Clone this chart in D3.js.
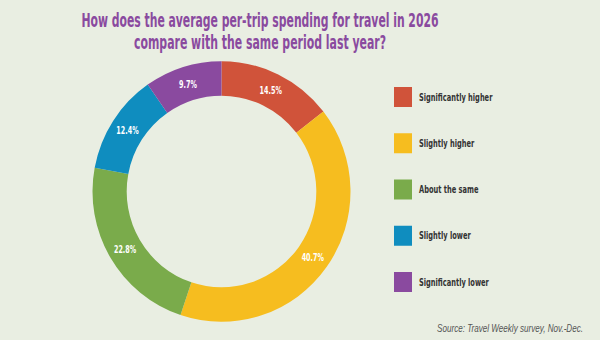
<!DOCTYPE html>
<html>
<head>
<meta charset="utf-8">
<script src="https://cdn.jsdelivr.net/npm/d3@7"></script>
<style>
  html, body { margin: 0; padding: 0; background: #e9eee2; }
  svg { display: block; }
</style>
</head>
<body>
<svg id="chart" width="600" height="340"></svg>
<script>
// ---- data ----
const categories = ["Significantly higher", "Slightly higher", "About the same", "Slightly lower", "Significantly lower"];
const shares = [14.5, 40.7, 22.8, 12.4, 9.7];
const colors = ["#d0533a", "#f6bd1f", "#7aab4b", "#0f8dbf", "#8a4a9f"];
const titleLines = ["How does the average per-trip spending for travel in 2026", "compare with the same period last year?"];
const sourceNote = "Source: Travel Weekly survey, Nov.-Dec.";

const svg = d3.select("#chart");
const W = 600, H = 340;
const FONT = "'DejaVu Sans Condensed', 'DejaVu Sans', sans-serif";

// squeeze a text horizontally (no narrow bold font installed)
function squeeze(sel, k) {
  sel.each(function() {
    const len = this.getComputedTextLength();
    d3.select(this).attr("textLength", len * k).attr("lengthAdjust", "spacingAndGlyphs");
  });
}

svg.append("rect").attr("width", W).attr("height", H).attr("fill", "#e9eee2");

// title
const title = svg.append("text")
  .attr("text-anchor", "middle")
  .attr("fill", "#8a4a9f")
  .attr("font-family", FONT)
  .attr("font-weight", "bold")
  .attr("font-size", 19.5);
const titleW = [357, 252];
titleLines.forEach((t, i) => {
  title.append("tspan")
    .attr("x", 260).attr("y", 27 + i * 22)
    .attr("textLength", titleW[i])
    .attr("lengthAdjust", "spacingAndGlyphs")
    .text(t);
});

// donut
const cx = 221.5, cy = 191.5, outerR = 129, innerR = 94.8;
const data = categories.map((c, i) => ({ cat: c, value: shares[i], color: colors[i] }));

const pie = d3.pie().value(d => d.value).sort(null);
const arc = d3.arc().innerRadius(innerR).outerRadius(outerR);
const labelArc = d3.arc().innerRadius((innerR + outerR) / 2).outerRadius((innerR + outerR) / 2);

// source image is a touch taller than wide
const g = svg.append("g").attr("transform", `translate(${cx},${cy}) scale(1,1.01)`);
const arcs = pie(data);

g.selectAll("path.slice")
  .data(arcs)
  .join("path")
  .attr("class", "slice")
  .attr("d", arc)
  .attr("fill", d => d.data.color);

g.selectAll("text.pct")
  .data(arcs)
  .join("text")
  .attr("class", "pct")
  .attr("transform", d => `translate(${labelArc.centroid(d)})`)
  .attr("text-anchor", "middle")
  .attr("dominant-baseline", "central")
  .attr("fill", "#ffffff")
  .attr("font-family", FONT)
  .attr("font-weight", "bold")
  .attr("font-size", 10.5)
  .text(d => d.data.value.toFixed(1) + "%")
  .call(squeeze, 0.68);

// legend
const legendY = d3.scalePoint().domain(categories).range([97, 282]);
const rows = svg.append("g").selectAll("g.row")
  .data(data)
  .join("g")
  .attr("class", "row")
  .attr("transform", d => `translate(394,${legendY(d.cat)})`);

rows.append("rect")
  .attr("x", 0).attr("y", -10)
  .attr("width", 18).attr("height", 20)
  .attr("fill", d => d.color);

rows.append("text")
  .attr("x", 25)
  .attr("dominant-baseline", "central")
  .attr("fill", "#333")
  .attr("font-family", FONT)
  .attr("font-weight", "bold")
  .attr("font-size", 10)
  .text(d => d.cat)
  .call(squeeze, 0.74);

// source
svg.append("text")
  .attr("x", 583).attr("y", 332)
  .attr("text-anchor", "end")
  .attr("fill", "#555")
  .attr("font-family", "'Liberation Sans', sans-serif")
  .attr("font-style", "italic")
  .attr("font-size", 10.5)
  .text(sourceNote)
  .call(squeeze, 0.77);
</script>
</body>
</html>
